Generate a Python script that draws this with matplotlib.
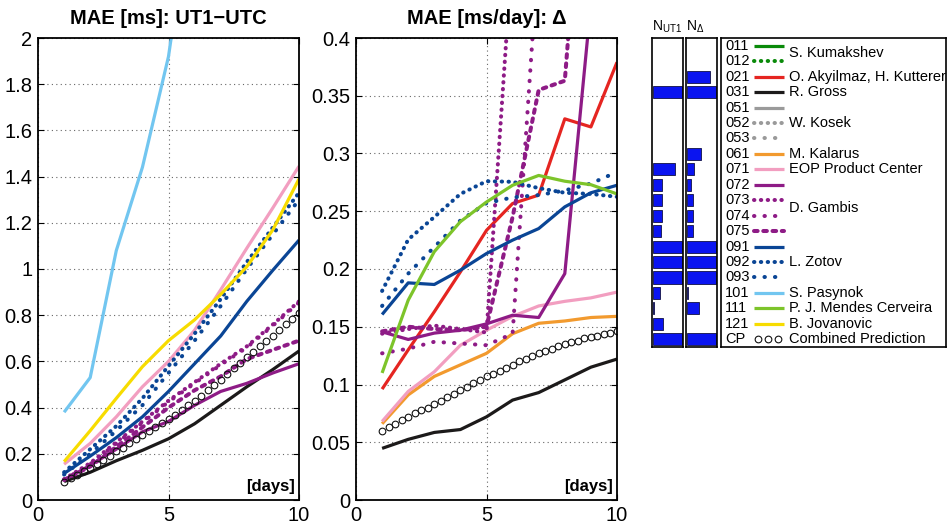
import numpy as np
import matplotlib
matplotlib.use("Agg")
import matplotlib.pyplot as plt
from matplotlib.ticker import FuncFormatter, MultipleLocator

plt.rcParams['font.family'] = ['Liberation Sans', 'DejaVu Sans']

# ---- data -------------------------------------------------------------
days = [1, 2, 3, 4, 5, 6, 7, 8, 9, 10]
cp_days = np.arange(1, 10.01, 0.25)

# UT1-UTC, MAE [ms]
ut1 = {
    "031": [0.08, 0.12, 0.17, 0.215, 0.265, 0.33, 0.41, 0.49, 0.565, 0.645],
    "071": [0.155, 0.245, 0.36, 0.49, 0.60, 0.735, 0.91, 1.09, 1.265, 1.445],
    "072": [0.087, 0.15, 0.22, 0.295, 0.34, 0.41, 0.47, 0.505, 0.55, 0.59],
    "073": [0.09, 0.16, 0.25, 0.34, 0.43, 0.51, 0.59, 0.665, 0.76, 0.86],
    "074": [0.088, 0.155, 0.245, 0.335, 0.425, 0.505, 0.585, 0.66, 0.755, 0.855],
    "075": [0.087, 0.145, 0.23, 0.315, 0.40, 0.475, 0.535, 0.61, 0.65, 0.69],
    "091": [0.115, 0.19, 0.27, 0.36, 0.47, 0.59, 0.71, 0.86, 0.995, 1.125],
    "092": [0.12, 0.22, 0.32, 0.44, 0.58, 0.72, 0.87, 1.03, 1.18, 1.33],
    "093": [0.11, 0.20, 0.30, 0.41, 0.55, 0.69, 0.84, 1.00, 1.15, 1.30],
    "101": [0.38, 0.53, 1.08, 1.44, 1.92, 2.7],
    "121": [0.166, 0.30, 0.44, 0.577, 0.69, 0.78, 0.89, 1.01, 1.17, 1.39],
}
ut1_cp = [0.080, 0.094, 0.108, 0.124, 0.140, 0.157, 0.174, 0.192, 0.210, 0.227,
          0.245, 0.262, 0.280, 0.297, 0.315, 0.332, 0.350, 0.370, 0.390, 0.410,
          0.430, 0.452, 0.475, 0.497, 0.520, 0.545, 0.570, 0.595, 0.620, 0.642,
          0.665, 0.687, 0.710, 0.735, 0.760, 0.785, 0.810]

# Delta (LOD), MAE [ms/day]
lod = {
    "021": [0.096, 0.13, 0.163, 0.1975, 0.2335, 0.2567, 0.264, 0.33, 0.323, 0.379],
    "031": [0.0447, 0.0525, 0.0585, 0.061, 0.072, 0.0865, 0.093, 0.104, 0.115, 0.122],
    "061": [0.066, 0.091, 0.107, 0.117, 0.127, 0.144, 0.153, 0.155, 0.158, 0.159],
    "071": [0.068, 0.094, 0.111, 0.134, 0.147, 0.159, 0.168, 0.172, 0.175, 0.18],
    "072": [0.1456, 0.139, 0.1445, 0.147, 0.1525, 0.160, 0.158, 0.196, 0.43, 0.80],
    "073": [0.144, 0.148, 0.151, 0.148, 0.145, 0.48, 0.95, 1.2, 1.4, 1.6],
    "074": [0.127, 0.131, 0.137, 0.1355, 0.134, 0.144, 0.48, 0.9, 1.1, 1.3],
    "075": [0.146, 0.150, 0.148, 0.147, 0.150, 0.245, 0.355, 0.363, 0.65, 1.0],
    "091": [0.1606, 0.188, 0.1866, 0.199, 0.2134, 0.225, 0.235, 0.2538, 0.266, 0.2725],
    "092": [0.181, 0.2255, 0.245, 0.265, 0.276, 0.2755, 0.270, 0.266, 0.265, 0.2625],
    "093": [0.168, 0.196, 0.219, 0.242, 0.257, 0.262, 0.264, 0.268, 0.274, 0.284],
    "111": [0.11, 0.173, 0.215, 0.241, 0.258, 0.2725, 0.281, 0.276, 0.273, 0.265],
}
lod_cp = [0.060, 0.063, 0.066, 0.069, 0.072, 0.075, 0.078, 0.080, 0.083, 0.086,
          0.089, 0.092, 0.095, 0.098, 0.101, 0.104, 0.107, 0.109, 0.112, 0.114,
          0.117, 0.120, 0.122, 0.125, 0.127, 0.129, 0.131, 0.133, 0.135, 0.137,
          0.138, 0.140, 0.141, 0.142, 0.144, 0.145, 0.146]

codes = ["011", "012", "021", "031", "051", "052", "053", "061", "071", "072",
         "073", "074", "075", "091", "092", "093", "101", "111", "121", "CP"]
n_ut1 = [0, 0, 0, 1.0, 0, 0, 0, 0, 0.77, 0.32, 0.32, 0.32, 0.30,
         1.0, 1.0, 1.0, 0.26, 0.04, 0.37, 1.0]
n_lod = [0, 0, 0.81, 1.0, 0, 0, 0, 0.49, 0.27, 0.15, 0.23, 0.23, 0.23,
         1.0, 1.0, 1.0, 0.06, 0.44, 0, 1.0]
authors = [("S. Kumakshev", 1.0), ("O. Akyilmaz, H. Kutterer", 2.5), ("R. Gross", 3.5),
           ("W. Kosek", 5.5), ("M. Kalarus", 7.5), ("EOP Product Center", 8.5),
           ("D. Gambis", 11.0), ("L. Zotov", 14.5), ("S. Pasynok", 16.5),
           ("P. J. Mendes Cerveira", 17.5), ("B. Jovanovic", 18.5),
           ("Combined Prediction", 19.5)]

# ---- styles -----------------------------------------------------------
DENSE = (0, (0.1, 1.6))
SPARSE = (0, (0.1, 2.5))
DASH = (0, (0.9, 1.4))
style = {
    "011": ('#0a8a0a', '-'), "012": ('#0a8a0a', DENSE),
    "021": ('#e52521', '-'), "031": ('#1c1a1a', '-'),
    "051": ('#9a9a9a', '-'), "052": ('#9a9a9a', DENSE), "053": ('#9a9a9a', SPARSE),
    "061": ('#f29a2e', '-'), "071": ('#f29ec0', '-'),
    "072": ('#8e1b86', '-'), "073": ('#8e1b86', DENSE), "074": ('#8e1b86', SPARSE),
    "075": ('#8e1b86', DASH),
    "091": ('#0a4595', '-'), "092": ('#0a4595', DENSE), "093": ('#0a4595', SPARSE),
    "101": ('#72c6f0', '-'), "111": ('#7dc42a', '-'), "121": ('#f7dc00', '-'),
}
LW = 2.3
LW_DOT = 2.9

fig = plt.figure(figsize=(9.47, 5.28), dpi=100)
W, H = 947.0, 528.0


def box(x0, y0, x1, y1):
    return [x0 / W, 1 - y1 / H, (x1 - x0) / W, (y1 - y0) / H]


def line_kw(code):
    col, ls = style[code]
    lw = LW if ls == '-' else LW_DOT
    return dict(color=col, ls=ls, lw=lw, dash_capstyle='round',
                solid_capstyle='butt')


def draw_panel(ax, series, cp, ymax, ystep, title):
    for code, vals in series.items():
        ax.plot(days[:len(vals)], vals, **line_kw(code))
    ax.plot(cp_days, cp, ls='none', marker='o', ms=4.8, mfc='none',
            mec='#111111', mew=0.8)
    ax.set_xlim(0, 10)
    ax.set_ylim(0, ymax)
    ax.xaxis.set_major_locator(MultipleLocator(5))
    ax.yaxis.set_major_locator(MultipleLocator(ystep))
    ax.yaxis.set_major_formatter(FuncFormatter(lambda v, p: '%g' % round(v, 3)))
    ax.grid(True, color='#666666', ls=(0, (1, 3)), lw=0.8)
    ax.tick_params(direction='in', top=True, right=True, length=4,
                   labelsize=14.5, pad=4, width=0.8)
    for s in ax.spines.values():
        s.set_linewidth(1.3)
    ax.set_title(title, fontsize=14.5, fontweight='bold', pad=10)
    ax.text(0.985, 0.012, '[days]', transform=ax.transAxes, ha='right',
            va='bottom', fontsize=12, fontweight='bold')


ax1 = fig.add_axes(box(38, 38, 299, 500))
draw_panel(ax1, ut1, ut1_cp, 2, 0.2, 'MAE [ms]: UT1\u2212UTC')
ax2 = fig.add_axes(box(356, 38, 617, 500))
draw_panel(ax2, lod, lod_cp, 0.4, 0.05, 'MAE [ms/day]: \u0394')

# ---- availability bars ---------------------------------------------------
rows = np.arange(len(codes)) + 0.5
for x0, vals, lab in [(652, n_ut1, r'$\mathregular{N_{UT1}}$'),
                      (686, n_lod, r'$\mathregular{N_{\Delta}}$')]:
    axb = fig.add_axes(box(x0, 38, x0 + 31, 347))
    keep = [i for i, v in enumerate(vals) if v > 0]
    axb.barh(rows[keep], [vals[i] for i in keep], height=0.78, left=0.02,
             color='#0a14f0', edgecolor='#111144', linewidth=0.6)
    axb.set_xlim(0, 1.07)
    axb.set_ylim(len(codes), 0)
    axb.set_xticks([])
    axb.set_yticks([])
    for s in axb.spines.values():
        s.set_linewidth(1.2)
    axb.text(0.0, 1.01, lab, transform=axb.transAxes, ha='left',
             va='bottom', fontsize=10)

# ---- legend -----------------------------------------------------------
axl = fig.add_axes(box(721, 38, 946, 347))
axl.set_xlim(0, 1)
axl.set_ylim(len(codes), 0)
axl.set_xticks([])
axl.set_yticks([])
for s in axl.spines.values():
    s.set_linewidth(1.2)
for i, code in enumerate(codes):
    y = i + 0.5
    axl.text(0.018, y, code, ha='left', va='center', fontsize=10.5)
    if code == 'CP':
        axl.plot([0.165, 0.21, 0.255], [y, y, y], ls='none', marker='o',
                 ms=4.8, mfc='none', mec='#111111', mew=0.8)
    else:
        axl.plot([0.148, 0.278], [y, y], **line_kw(code))
for name, y in authors:
    axl.text(0.30, y, name, ha='left', va='center', fontsize=10.5)

fig.savefig('out.png', dpi=100)
